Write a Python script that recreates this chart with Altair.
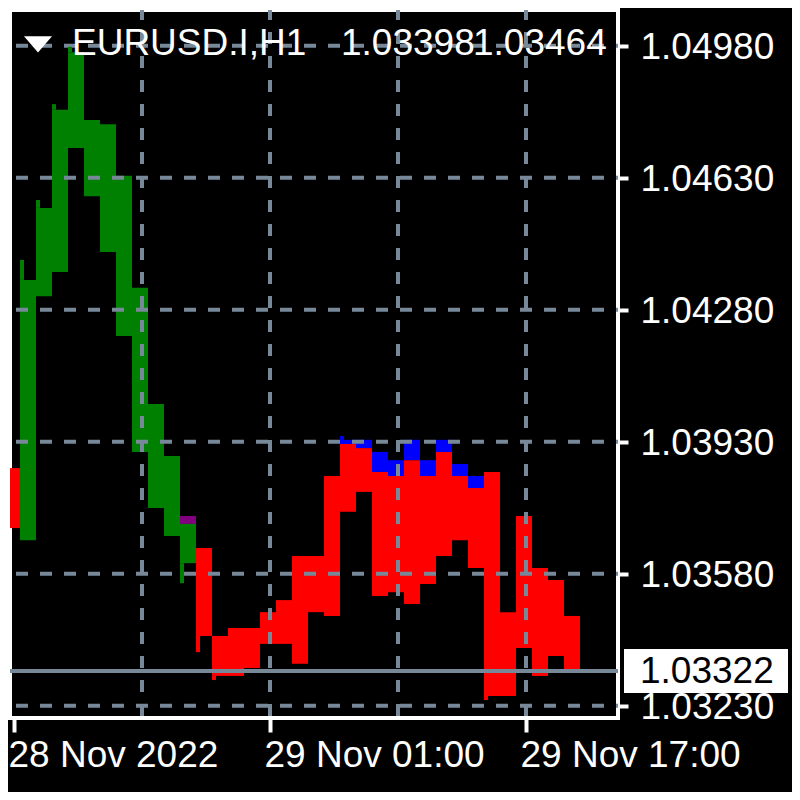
import altair as alt
import pandas as pd

# ---------------- data ----------------
symbol_text = "EURUSD.I,H1"
bid_text = "1.03398"
ask_text = "1.03464"
current_price = 1.03322

price_ticks = [1.03230, 1.03580, 1.03930, 1.04280, 1.04630, 1.04980]
time_grid = [8, 16, 24, 32]
time_ticks = [0, 16, 32]
time_labels = ["28 Nov 2022", "29 Nov 01:00", "29 Nov 17:00"]

# indicator bodies: bar index (hours), state, upper and lower value
body_bar = [0, 1, 2, 3, 4, 5, 6, 7, 8, 9, 10, 11, 11, 12, 13, 14, 15, 16, 17, 18, 19, 20,
            21, 21, 22, 22, 23, 23, 24, 24, 25, 25, 26, 26, 27, 27, 28, 28, 29, 29,
            30, 31, 32, 33, 34, 35]
body_state = ["down", "up", "up", "up", "up", "up", "up", "up", "up", "up", "up", "flat", "up",
              "down", "down", "down", "down", "down", "down", "down", "down", "down",
              "top", "down", "top", "down", "top", "down", "top", "down", "top", "down",
              "top", "down", "top", "down", "top", "down", "top", "down",
              "down", "down", "down", "down", "down", "down"]
body_high = [1.03860, 1.04359, 1.04550, 1.04810, 1.04963, 1.04783, 1.04772, 1.04635, 1.04338,
             1.04030, 1.03892, 1.03733, 1.03712, 1.03648, 1.03415, 1.03436, 1.03436, 1.03478,
             1.03510, 1.03627, 1.03627, 1.03839,
             1.03935, 1.03924, 1.03935, 1.03913, 1.03903, 1.03850, 1.03881, 1.03839,
             1.03935, 1.03881, 1.03881, 1.03839, 1.03935, 1.03903, 1.03871, 1.03839,
             1.03839, 1.03807,
             1.03850, 1.03478, 1.03733, 1.03595, 1.03563, 1.03468]
body_low = [1.03701, 1.03669, 1.04316, 1.04380, 1.04709, 1.04581, 1.04433, 1.04210, 1.03903,
            1.03754, 1.03680, 1.03712, 1.03608, 1.03415, 1.03309, 1.03309, 1.03330, 1.03394,
            1.03394, 1.03341, 1.03478, 1.03468,
            1.03924, 1.03744, 1.03913, 1.03797, 1.03850, 1.03521, 1.03839, 1.03531,
            1.03881, 1.03500, 1.03839, 1.03553, 1.03903, 1.03627, 1.03839, 1.03669,
            1.03807, 1.03595,
            1.03256, 1.03256, 1.03383, 1.03309, 1.03362, 1.03319]

# thin wicks
wick_bar = [1, 2, 3, 4, 11, 12, 13, 21, 30]
wick_state = ["up", "up", "up", "up", "up", "down", "down", "top", "down"]
wick_high = [1.04412, 1.04571, 1.04825, 1.04977, 1.03608, 1.03415, 1.03309, 1.03945, 1.03256]
wick_low = [1.04359, 1.04550, 1.04810, 1.04963, 1.03555, 1.03372, 1.03298, 1.03935, 1.03245]

# ---------------- styling ----------------
W, H = 608, 708
FONT = "Liberation Sans"
FS = 37
GRID = "#778899"
state_domain = ["up", "down", "top", "flat"]
state_range = ["#008000", "#FF0000", "#0000FF", "#800080"]

x_dom = [-0.25, 37.75]
y_dom = [1.031974, 1.050747]
xscale = alt.Scale(domain=x_dom, nice=False, zero=False)
yscale = alt.Scale(domain=y_dom, nice=False, zero=False)

body_df = pd.DataFrame({"bar": body_bar, "state": body_state, "high": body_high, "low": body_low})
body_df["x0"] = body_df["bar"] - 0.625
body_df["x1"] = body_df["bar"] + 0.375
wick_df = pd.DataFrame({"bar": wick_bar, "state": wick_state, "high": wick_high, "low": wick_low})
wick_df["x0"] = wick_df["bar"] - 0.625
wick_df["x1"] = wick_df["bar"] - 0.375

label_expr = "''"
for v, lab in reversed(list(zip(time_ticks, time_labels))):
    label_expr = f"datum.value == {v} ? '{lab}' : ({label_expr})"

xaxis = alt.Axis(values=time_ticks, labelExpr=label_expr, grid=False, domain=False,
                 tickColor="white", tickSize=14, tickWidth=4, labelColor="white",
                 labelFont=FONT, labelFontSize=FS, labelAlign="left", labelOffset=-6,
                 labelPadding=5, title=None, labelFlush=False, labelOverlap=False,
                 labelBound=False, labelLimit=0)
yaxis = alt.Axis(orient="right", values=price_ticks, format=".5f", grid=False, domain=False,
                 tickColor="white", tickSize=10, tickWidth=4, labelColor="white",
                 labelFont=FONT, labelFontSize=FS, labelPadding=12, labelOffset=2,
                 title=None, labelFlush=False, labelOverlap=False, labelBound=False,
                 labelLimit=0)

color_enc = alt.Color("state:N", scale=alt.Scale(domain=state_domain, range=state_range), legend=None)

one = pd.DataFrame({"a": [0]})

# the candle-like bodies carry both axes
bodies = alt.Chart(body_df).mark_rect(clip=True).encode(
    x=alt.X("x0:Q", scale=xscale, axis=xaxis), x2="x1:Q",
    y=alt.Y("high:Q", scale=yscale, axis=yaxis), y2="low:Q",
    color=color_enc)

wicks = alt.Chart(wick_df).mark_rect(clip=True).encode(
    x=alt.X("x0:Q", scale=xscale, axis=xaxis), x2="x1:Q",
    y=alt.Y("high:Q", scale=yscale, axis=yaxis), y2="low:Q",
    color=color_enc)

vgrid = alt.Chart(pd.DataFrame({"t": time_grid})).mark_rule(
    color=GRID, strokeWidth=4, strokeDash=[12, 12], strokeDashOffset=2
).encode(x=alt.X("t:Q", scale=xscale, axis=xaxis), y=alt.value(0), y2=alt.value(H))

hgrid = alt.Chart(pd.DataFrame({"p": price_ticks})).mark_rule(
    color=GRID, strokeWidth=4, strokeDash=[12, 12], strokeDashOffset=18
).encode(y=alt.Y("p:Q", scale=yscale, axis=yaxis), x=alt.value(0), x2=alt.value(W))

price_line = alt.Chart(pd.DataFrame({"p": [current_price]})).mark_rule(
    color=GRID, strokeWidth=4
).encode(y=alt.Y("p:Q", scale=yscale, axis=yaxis), x=alt.value(0), x2=alt.value(W))


def txt(s, xpix, ypix):
    return alt.Chart(one).mark_text(
        align="left", baseline="alphabetic", font=FONT, fontSize=FS, color="white"
    ).encode(x=alt.value(xpix), y=alt.value(ypix), text=alt.value(s))


tri = alt.Chart(one).mark_point(
    shape="M-1,-0.55L1,-0.55L0,0.6Z", filled=True, color="white", opacity=1,
    size=784, strokeWidth=0
).encode(x=alt.value(28), y=alt.value(34))

half = 22 * (y_dom[1] - y_dom[0]) / H
box_df = pd.DataFrame({"p": [current_price], "top": [current_price + half],
                       "bot": [current_price - half],
                       "label": [f"{current_price:.5f}"]})
price_box = alt.Chart(box_df).mark_rect(color="white").encode(
    x=alt.value(614), x2=alt.value(778),
    y=alt.Y("top:Q", scale=yscale, axis=yaxis), y2="bot:Q")
price_txt = alt.Chart(box_df).mark_text(
    align="left", baseline="middle", font=FONT, fontSize=FS, color="black", dy=1
).encode(x=alt.value(630), y=alt.Y("p:Q", scale=yscale, axis=yaxis), text="label:N")

chart = alt.layer(
    bodies, vgrid, hgrid, price_line, wicks,
    txt(symbol_text, 62, 45), txt(bid_text, 331, 45), txt(ask_text, 463, 45), tri,
    price_box, price_txt
).properties(
    width=W, height=H, background="black",
    padding={"left": 2, "top": 2, "right": 174, "bottom": 74},
    autosize=alt.AutoSizeParams(type="none"),
).configure_view(stroke="white", strokeWidth=4, fill="black")

chart.save("out.html", embed_options={"renderer": "svg", "actions": False})
